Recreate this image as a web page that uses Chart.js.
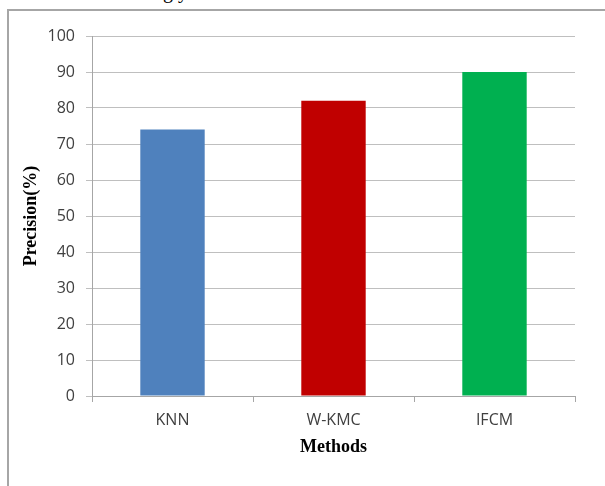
<!DOCTYPE html>
<html>
<head>
<meta charset="utf-8">
<script src="https://cdn.jsdelivr.net/npm/chart.js@4"></script>
<style>
  body { margin: 0; background: #fff; }
  #wrap { position: relative; width: 605px; height: 486px; overflow: hidden; }
  #frame { position: absolute; left: 7px; top: 9px; width: 620px; height: 500px; border: 2px solid #a6a6a6; }
  #clip { position: absolute; left: 163px; top: -19px; font: 20px "Liberation Serif", serif; line-height: 20px; color: #000; }
  canvas { position: absolute; left: 0; top: 0; }
</style>
</head>
<body>
<div id="wrap">
  <div id="clip">g y</div>
  <div id="frame"></div>
  <canvas id="chart" width="605" height="486"></canvas>
</div>
<script>
const methods = ['KNN', 'W-KMC', 'IFCM']
const precision = [74, 82, 90]
const barColors = ['#4f81bd', '#c00000', '#00b050']

const tickFont = { family: '"Open Sans", sans-serif', size: 16 }
const titleFont = { family: '"Liberation Serif", serif', size: 18, weight: 'bold' }

new Chart(document.querySelector('#chart').getContext('2d'), {
    type: 'bar',
    data: {
        labels: methods,
        datasets: [{
            label: 'Precision',
            data: precision,
            backgroundColor: barColors,
            borderWidth: 0,
            barPercentage: 0.4,
            categoryPercentage: 1
        }]
    },
    options: {
        responsive: false,
        animation: false,
        layout: { padding: { top: 36, right: 30, left: 0, bottom: 0 } },
        plugins: { legend: { display: false }, tooltip: { enabled: false } },
        scales: {
            x: {
                afterFit: scale => { scale.height = 90 },
                grid: { offset: true, drawOnChartArea: false, drawTicks: true, tickLength: 6, color: '#a6a6a6' },
                border: { color: '#a6a6a6' },
                ticks: { color: '#404040', font: tickFont, padding: 9 },
                title: { display: true, text: 'Methods', color: '#000', font: titleFont, padding: { top: 0, bottom: 28 } }
            },
            y: {
                min: 0,
                max: 100,
                afterFit: scale => { scale.width = 92 },
                grid: { color: '#bfbfbf', tickLength: 6 },
                border: { color: '#a6a6a6' },
                ticks: { stepSize: 10, color: '#404040', font: tickFont, padding: 11 },
                title: { display: true, text: 'Precision(%)', color: '#000', font: titleFont, padding: { top: 21, bottom: 0 } }
            }
        }
    }
})
</script>
</body>
</html>
